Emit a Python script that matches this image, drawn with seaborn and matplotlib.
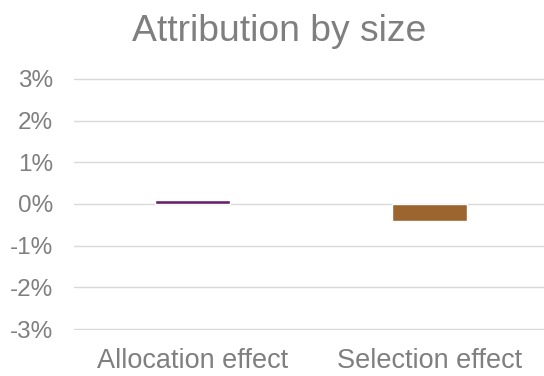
import matplotlib
matplotlib.use("Agg")
import matplotlib.pyplot as plt
import seaborn as sns
import pandas as pd
from matplotlib.ticker import FuncFormatter

# Attribution effects (as fractions)
categories = ["Allocation effect", "Selection effect"]
effects = [0.001, -0.004]
bar_colors = ["#68226C", "#9C652F"]
y_ticks = [-0.03, -0.02, -0.01, 0.0, 0.01, 0.02, 0.03]

sns.set_theme(style="white")
plt.rcParams["font.family"] = ["Liberation Sans", "DejaVu Sans"]

text_gray = "#7F7F7F"
grid_gray = "#D9D9D9"

df = pd.DataFrame({"category": categories, "effect": effects})

fig = plt.figure(figsize=(5.44, 3.76), dpi=100)
ax = fig.add_axes([74 / 544, 1 - 330 / 376, (548 - 74) / 544, (330 - 78) / 376])

sns.barplot(data=df, x="category", y="effect", hue="category",
            palette=bar_colors, saturation=1, width=0.316, legend=False,
            ax=ax, zorder=3)

ax.set_ylim(-0.0302, 0.0302)
ax.set_yticks(y_ticks)
ax.yaxis.set_major_formatter(FuncFormatter(lambda v, _: f"{v * 100:.0f}%"))
ax.grid(axis="y", color=grid_gray, linewidth=1.0, zorder=0)
ax.set_axisbelow(True)

for s in ax.spines.values():
    s.set_visible(False)

ax.set_xlabel("")
ax.set_ylabel("")
ax.tick_params(axis="y", length=0, pad=15, labelsize=17.5, labelcolor=text_gray)
ax.tick_params(axis="x", length=0, pad=13, labelsize=19.5, labelcolor=text_gray)

fig.text(0.513, 0.963, "Attribution by size", ha="center", va="top",
         fontsize=26.8, color=text_gray)

fig.savefig("out.png", dpi=100)
